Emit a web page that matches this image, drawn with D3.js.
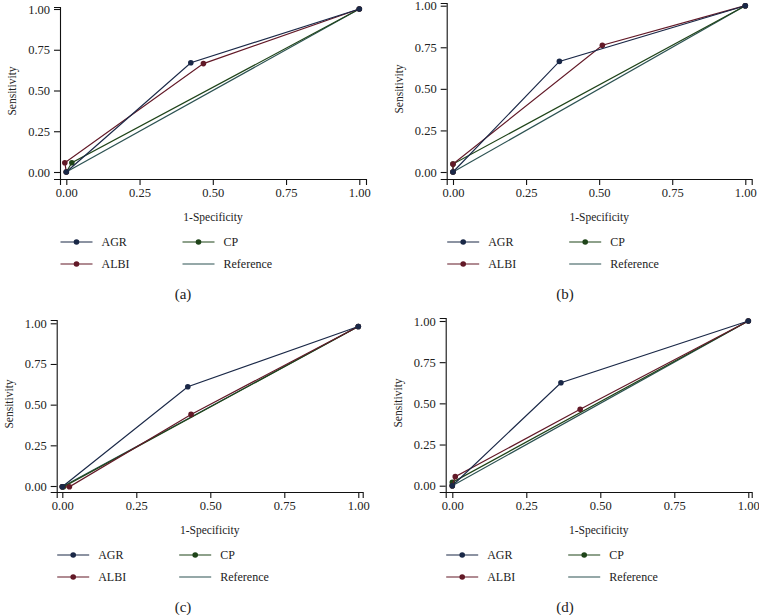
<!DOCTYPE html>
<html><head><meta charset="utf-8">
<script src="https://cdn.jsdelivr.net/npm/d3@7/dist/d3.min.js"></script>
<style>body{margin:0;background:#fff}svg{display:block}</style>
</head><body>
<svg id="c" width="759" height="615"></svg>
<script>
const tickVals = [0, 0.25, 0.5, 0.75, 1];
const tickLabels = ["0.00", "0.25", "0.50", "0.75", "1.00"];
const seriesNames = ["AGR", "ALBI", "CP", "Reference"];
const panelLabels = ["(a)", "(b)", "(c)", "(d)"];

// ROC points per panel: [1-specificity, sensitivity]
const agrA  = [[0,0],[0.425,0.67],[1,1]];
const albiA = [[0,0],[-0.005,0.057],[0.468,0.665],[1,1]];
const cpA   = [[0,0],[0.019,0.057],[1,1]];
const refA  = [[0,0],[1,1]];
const agrB  = [[0,0],[0.364,0.665],[1,1]];
const albiB = [[0,0],[0,0.048],[0.511,0.762],[1,1]];
const cpB   = [[0,0],[0,0.048],[1,1]];
const refB  = [[0,0],[1,1]];
const agrC  = [[0,-0.005],[0.424,0.61],[1,0.98]];
const albiC = [[0,-0.005],[0.024,-0.005],[0.435,0.44],[1,0.98]];
const cpC   = [[0,-0.005],[0.004,-0.005],[1,0.98]];
const refC  = [[0,-0.005],[1,0.98]];
const agrD  = [[0,0],[0.367,0.625],[1,1]];
const albiD = [[0,0],[0.01,0.055],[0.432,0.464],[1,1]];
const cpD   = [[0,0],[0,0.02],[1,1]];
const refD  = [[0,0],[1,1]];

const colors = {AGR:"#1a2847", ALBI:"#621927", CP:"#1f4419", Reference:"#2c5252"};
const FONT = "'Liberation Serif', 'DejaVu Serif', serif";

const panels = [
  {data:[agrA,albiA,cpA,refA], ax:60, xEnd:366, ay:179, yTop:7, x0:66.3, x1:359.3, y0:172, y1:9, lx:183},
  {data:[agrB,albiB,cpB,refB], ax:446.7, xEnd:751.7, ay:179, yTop:3, x0:453, x1:745.3, y0:172, y1:5.7, lx:565},
  {data:[agrC,albiC,cpC,refC], ax:56.7, xEnd:362.7, ay:492, yTop:320, x0:62.3, x1:358.3, y0:486, y1:323.3, lx:183},
  {data:[agrD,albiD,cpD,refD], ax:445.7, xEnd:751.7, ay:492, yTop:318, x0:452.3, x1:748.3, y0:485.7, y1:321, lx:565}
];

const svg = d3.select("#c");

panels.forEach((p, i) => {
  const x = d3.scaleLinear().domain([0,1]).range([p.x0, p.x1]);
  x.domain([x.invert(p.ax), x.invert(p.xEnd)]).range([p.ax, p.xEnd]);
  const y = d3.scaleLinear().domain([0,1]).range([p.y0, p.y1]);
  y.domain([y.invert(p.ay), y.invert(p.yTop)]).range([p.ay, p.yTop]);

  const g = svg.append("g");
  const line = d3.line().x(d => x(d[0])).y(d => y(d[1]));

  // curves: draw reference first, then CP, ALBI, AGR
  [3, 2, 1, 0].forEach(k => {
    const name = seriesNames[k];
    const pts = p.data[k];
    g.append("path").datum(pts).attr("d", line)
      .attr("fill", "none").attr("stroke", colors[name]).attr("stroke-width", 1.2);
    if (k !== 3) {
      g.selectAll(null).data(pts).enter().append("circle")
        .attr("cx", d => x(d[0])).attr("cy", d => y(d[1])).attr("r", 2.8)
        .attr("fill", colors[name]);
    }
  });

  const xa = g.append("g").attr("transform", `translate(0,${p.ay})`)
    .call(d3.axisBottom(x).tickValues(tickVals).tickFormat((d,j)=>tickLabels[j]).tickSizeOuter(0).tickSize(6).tickPadding(3));
  const ya = g.append("g").attr("transform", `translate(${p.ax},0)`)
    .call(d3.axisLeft(y).tickValues(tickVals).tickFormat((d,j)=>tickLabels[j]).tickSizeOuter(0).tickSize(6).tickPadding(4));
  [xa, ya].forEach(a => {
    a.selectAll("path,line").attr("stroke", "#111").attr("stroke-width", 1.1);
    a.selectAll("text").attr("font-family", FONT).attr("font-size", 12.5).attr("fill", "#222");
  });

  // axis titles
  const cx = (p.ax + p.xEnd) / 2;
  g.append("text").attr("x", cx).attr("y", p.ay + 38).attr("dy", "0.35em")
    .attr("text-anchor", "middle").attr("font-family", FONT).attr("font-size", 11.5).attr("fill", "#222")
    .text("1-Specificity");
  g.append("text").attr("transform", `translate(${p.ax - 48},${(p.ay + p.yTop)/2 - 2}) rotate(-90)`)
    .attr("dy", "0.35em").attr("text-anchor", "middle").attr("font-family", FONT).attr("font-size", 11.5).attr("fill", "#222")
    .text("Sensitivity");

  // legend
  const rows = [p.ay + 63, p.ay + 85];
  const cols = [p.ax + 0.5, p.ax + 122.5];
  seriesNames.forEach((name, k) => {
    const lx = cols[Math.floor(k/2)], ly = rows[k % 2];
    g.append("line").attr("x1", lx).attr("x2", lx + 32).attr("y1", ly).attr("y2", ly)
      .attr("stroke", colors[name]).attr("stroke-width", 1.2);
    if (name !== "Reference") {
      g.append("circle").attr("cx", lx + 16).attr("cy", ly).attr("r", 2.8).attr("fill", colors[name]);
    }
    g.append("text").attr("x", lx + 41).attr("y", ly).attr("dy", "0.35em")
      .attr("font-family", FONT).attr("font-size", 12).attr("fill", "#222").text(name);
  });

  g.append("text").attr("x", p.lx).attr("y", p.ay + 115).attr("dy", "0.35em")
    .attr("text-anchor", "middle").attr("font-family", FONT).attr("font-size", 15).attr("fill", "#222")
    .text(panelLabels[i]);
});
</script>
</body></html>
